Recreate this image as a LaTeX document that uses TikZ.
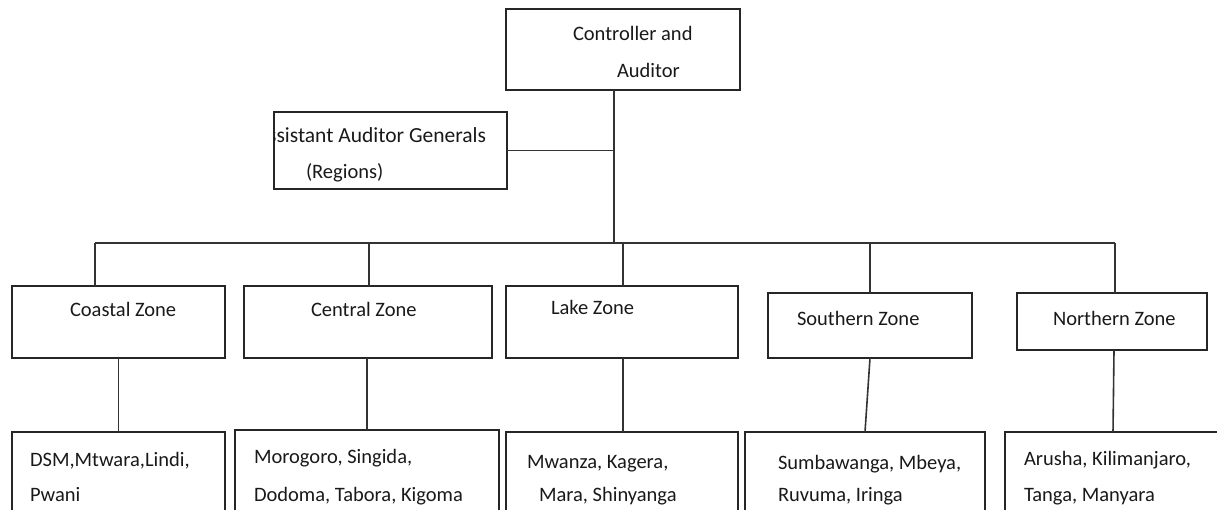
\documentclass[tikz,border=0pt]{standalone}
\usepackage{fontspec}
\setmainfont{Carlito}
\begin{document}
\begin{tikzpicture}[x=1pt,y=-1pt,
  box/.style={draw=black!85, line width=1.6pt, inner sep=0pt, outer sep=0pt},
  lbl/.style={anchor=base west, inner sep=0pt, outer sep=0pt, text=black!90, font=\fontsize{20.5}{24}\selectfont},
  conn/.style={draw=black!80, line width=1.6pt}]
\useasboundingbox (0,0) rectangle (1217,509);
\clip (0,0) rectangle (1217,509);
% boxes
\node[box, minimum width=234pt, minimum height=81pt] (top) at (623,49.5) {};
\node[box, minimum width=233pt, minimum height=77pt] (asst) at (390.5,150.5) {};
\node[box, minimum width=213pt, minimum height=72pt] (coastal) at (118.5,322) {};
\node[box, minimum width=248pt, minimum height=72pt] (central) at (368,322) {};
\node[box, minimum width=232pt, minimum height=72pt] (lake) at (622,322) {};
\node[box, minimum width=204pt, minimum height=65pt] (southern) at (870,325.5) {};
\node[box, minimum width=190pt, minimum height=57pt] (northern) at (1112,321.5) {};
\node[box, minimum width=213pt, minimum height=100pt] (coastalb) at (118.5,482) {};
\node[box, minimum width=264pt, minimum height=104pt] (centralb) at (367,482) {};
\node[box, minimum width=232pt, minimum height=100pt] (lakeb) at (622,482) {};
\node[box, minimum width=240pt, minimum height=100pt] (southernb) at (865,482) {};
\node[box, minimum width=220pt, minimum height=100pt] (northernb) at (1115,482) {};
% texts
\node[lbl] (t1) at (573,40) {Controller and};
\node[lbl] (t2) at (617,77) {Auditor};
\begin{scope}
\clip (asst.north west) rectangle (asst.south east);
\node[lbl, anchor=base east, font=\fontsize{21.5}{24}\selectfont] (t3) at (486,142) {Assistant Auditor Generals};
\end{scope}
\node[lbl] (t4) at (306,178) {(Regions)};
\node[lbl] (c1) at (70,316) {Coastal Zone};
\node[lbl] (c2) at (311,316) {Central Zone};
\node[lbl] (c3) at (551,314) {Lake Zone};
\node[lbl] (c4) at (797,325) {Southern Zone};
\node[lbl] (c5) at (1053,325) {Northern Zone};
\node[lbl] (r1a) at (30,466) {DSM,Mtwara,Lindi,};
\node[lbl] (r1b) at (30,501) {Pwani};
\node[lbl] (r2a) at (254,463) {Morogoro, Singida,};
\node[lbl] (r2b) at (254,501) {Dodoma, Tabora, Kigoma};
\node[lbl] (r3a) at (527,468) {Mwanza, Kagera,};
\node[lbl] (r3b) at (539,501) {Mara, Shinyanga};
\node[lbl] (r4a) at (778,469) {Sumbawanga, Mbeya,};
\node[lbl] (r4b) at (778,501) {Ruvuma, Iringa};
\node[lbl] (r5a) at (1024,465) {Arusha, Kilimanjaro,};
\node[lbl] (r5b) at (1024,501) {Tanga, Manyara};
% connectors
\coordinate (j) at (614,243);
\coordinate (bl) at (95,243);
\coordinate (br) at (1115,243);
\coordinate (dc) at (369,243);
\coordinate (dl) at (623,243);
\coordinate (ds) at (870,243);
\draw[conn] (j |- top.south) -- (j);
\draw[conn] (asst.east) -- (asst.east -| j);
\draw[conn] (bl) -- (br);
\draw[conn] (bl) -- (bl |- coastal.north);
\draw[conn] (dc) -- (dc |- central.north);
\draw[conn] (dl) -- (dl |- lake.north);
\draw[conn] (ds) -- (ds |- southern.north);
\draw[conn] (br) -- (br |- northern.north);
\draw[conn] (coastal.south) -- (coastal.south |- coastalb.north);
\draw[conn] (central.south -| 367,0) -- (367,0 |- centralb.north);
\draw[conn] (lake.south -| 623,0) -- (623,0 |- lakeb.north);
\draw[conn] (southern.south) -- (southernb.north);
\draw[conn] (northern.south -| 1114,0) -- (1113,0 |- northernb.north);
\end{tikzpicture}
\end{document}
